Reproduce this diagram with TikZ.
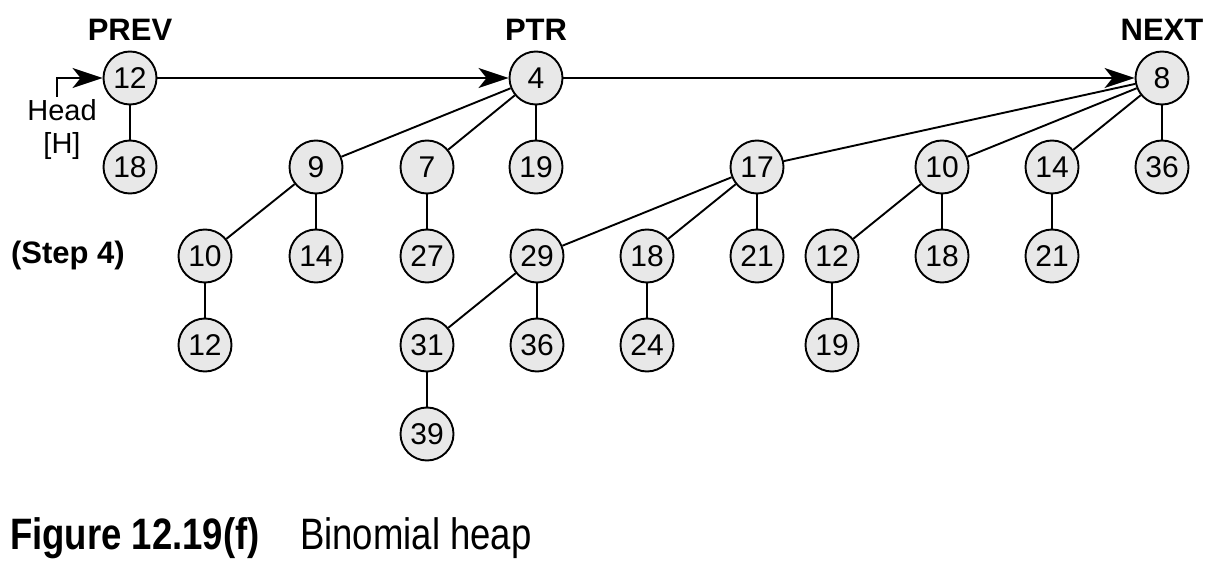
\documentclass[tikz,border=0pt]{standalone}
\usepackage{fontspec}
\setmainfont{Liberation Sans}
\newfontfamily\capfont[FakeStretch=0.83]{Liberation Sans}
\usetikzlibrary{arrows.meta}
\definecolor{nodefill}{HTML}{E8E8E8}
\tikzset{
  hnode/.style={circle,draw,line width=1.9pt,fill=nodefill,minimum size=53pt,inner sep=0pt,font=\fontsize{30}{32}\selectfont},
  lbl/.style={font=\fontsize{31}{33}\selectfont\bfseries},
  edge/.style={line width=1.9pt},
  arr/.style={line width=1.9pt,-{Stealth[length=30pt,width=20pt,inset=8pt]}}
}
\begin{document}
\begin{tikzpicture}[x=1pt,y=-1pt]
\useasboundingbox (0,0) rectangle (1218,564);
% root list
\node[hnode] (a12) at (130,78) {12};
\node[hnode] (a18) at (130,167) {18};
\node[hnode] (b4) at (536,78) {4};
\node[hnode] (b9) at (316,167) {9};
\node[hnode] (b7) at (427,167) {7};
\node[hnode] (b19) at (536,167) {19};
\node[hnode] (b10) at (205,256) {10};
\node[hnode] (b14) at (316,256) {14};
\node[hnode] (b27) at (427,256) {27};
\node[hnode] (b12) at (205,345) {12};
\node[hnode] (c8) at (1162,78) {8};
\node[hnode] (c17) at (757,167) {17};
\node[hnode] (c10) at (942,167) {10};
\node[hnode] (c14) at (1052,167) {14};
\node[hnode] (c36) at (1162,167) {36};
\node[hnode] (c29) at (537,256) {29};
\node[hnode] (c18) at (647,256) {18};
\node[hnode] (c21) at (757,256) {21};
\node[hnode] (c12) at (832,256) {12};
\node[hnode] (c18b) at (942,256) {18};
\node[hnode] (c21b) at (1052,256) {21};
\node[hnode] (c31) at (427,345) {31};
\node[hnode] (c36b) at (537,345) {36};
\node[hnode] (c24) at (647,345) {24};
\node[hnode] (c19) at (832,345) {19};
\node[hnode] (c39) at (427,434) {39};
% labels
\node[lbl] (prev) at (130,30) {PREV};
\node[lbl] (ptr) at (536,30) {PTR};
\node[lbl] (next) at (1162,30) {NEXT};
\node[lbl] (step) at (68,255) {(Step 4)};
\node[font=\fontsize{29}{31}\selectfont] (head) at (62,110) {Head};
\node[font=\fontsize{29}{31}\selectfont] (hh) at (62,146) {[H]};
% head arrow
\coordinate (hs) at (57,97);
\draw[arr] (hs) |- (a12.west);
% root list arrows
\draw[arr] (a12) -- (b4);
\draw[arr] (b4) -- (c8);
% tree edges
\draw[edge] (a12) -- (a18);
\draw[edge] (b4) -- (b9);
\draw[edge] (b4) -- (b7);
\draw[edge] (b4) -- (b19);
\draw[edge] (b9) -- (b10);
\draw[edge] (b9) -- (b14);
\draw[edge] (b7) -- (b27);
\draw[edge] (b10) -- (b12);
\draw[edge] (c8) -- (c17);
\draw[edge] (c8) -- (c10);
\draw[edge] (c8) -- (c14);
\draw[edge] (c8) -- (c36);
\draw[edge] (c17) -- (c29);
\draw[edge] (c17) -- (c18);
\draw[edge] (c17) -- (c21);
\draw[edge] (c10) -- (c12);
\draw[edge] (c10) -- (c18b);
\draw[edge] (c14) -- (c21b);
\draw[edge] (c29) -- (c31);
\draw[edge] (c29) -- (c36b);
\draw[edge] (c18) -- (c24);
\draw[edge] (c12) -- (c19);
\draw[edge] (c31) -- (c39);
% caption
\node[anchor=base west,inner sep=0pt,font=\fontsize{44}{46}\capfont\bfseries] (fig) at (10,549) {Figure 12.19(f)};
\node[anchor=base west,inner sep=0pt,font=\fontsize{44}{46}\capfont] (cap) at (300,549) {Binomial heap};
\end{tikzpicture}
\end{document}
